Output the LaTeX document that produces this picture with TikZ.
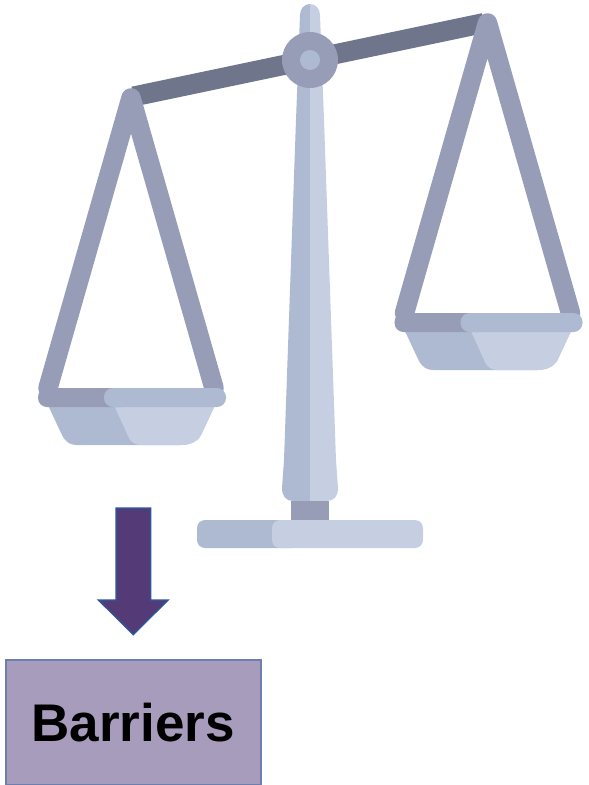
\documentclass[tikz,border=0pt]{standalone}
\usepackage{fontspec}
\setmainfont{Liberation Sans}
\definecolor{panDark}{HTML}{AEB9D2}
\definecolor{panLight}{HTML}{C6CFE2}
\definecolor{frameCol}{HTML}{989DB7}
\definecolor{beamCol}{HTML}{6F758B}
\definecolor{arrowFill}{HTML}{553A78}
\definecolor{arrowLine}{HTML}{2F5597}
\definecolor{boxFill}{HTML}{A79CBC}
\definecolor{boxLine}{HTML}{6D7FAE}
\tikzset{
  hanger/.style={draw=frameCol,line width=19.5pt,line cap=round,line join=round},
  barriersbox/.style={draw=boxLine,line width=2pt,fill=boxFill,minimum width=255pt,minimum height=125pt,inner sep=0pt,font=\fontsize{53}{60}\selectfont\bfseries,text=black},
  pics/scalepan/.style={code={
    \draw[hanger] (-83,290) -- (0,0) -- (83,290);
    % bowl
    \fill[panDark] (-84,305) -- (-69,337) .. controls (-65,345) and (-60,347) .. (-54,347) -- (50,347) .. controls (56,347) and (66,345) .. (70,337) -- (85,305) -- cycle;
    \fill[panLight] (-18,305) -- (-2,340) .. controls (0,344) and (4,347) .. (10,347) -- (50,347) .. controls (56,347) and (66,345) .. (70,337) -- (85,305) -- cycle;
    % rim
    \fill[frameCol,rounded corners=9pt] (-93,290) rectangle (0,309);
    \fill[panDark,rounded corners=9pt] (-27,290) rectangle (95,309);
  }}
}
\begin{document}
\begin{tikzpicture}[x=1pt,y=-1pt]
\useasboundingbox (0,0) rectangle (589,785);
% beam
\draw[beamCol,line width=20pt] (133.5,96.5) -- (484,23);
% pans
\pic at (131,98) {scalepan};
\pic at (487.5,23) {scalepan};
% column
\fill[panDark] (310,4) .. controls (304,4) and (300,9) .. (300,15) -- (296,120) -- (284,460) -- (282,488) .. controls (282,496) and (286,501) .. (293,501) -- (310,501) -- cycle;
\fill[panLight] (310,4) .. controls (316,4) and (320,9) .. (320,15) -- (324,120) -- (336,460) -- (338,488) .. controls (338,496) and (334,501) .. (327,501) -- (310,501) -- cycle;
% stem
\fill[frameCol] (291,501) rectangle (329,521);
% base
\fill[panDark,rounded corners=8pt] (197,520) rectangle (300,548);
\fill[panLight,rounded corners=8pt] (272,520) rectangle (423,548);
% hub
\fill[frameCol] (310,60) circle[radius=28];
\fill[panDark] (310,60) circle[radius=10];
% arrow
\draw[fill=arrowFill,draw=arrowLine,line width=1.5pt,line join=miter] (116,508) -- (150.5,508) -- (150.5,600) -- (168,600) -- (133.3,634.5) -- (98.5,600) -- (116,600) -- cycle;
% box
\node[barriersbox] (barriers) at (133,722.8) {\raisebox{-2.2pt}{Barriers}};
\end{tikzpicture}
\end{document}
